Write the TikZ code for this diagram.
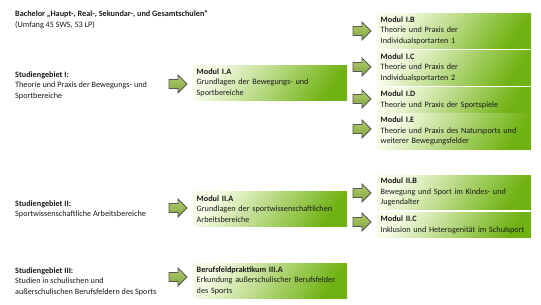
\documentclass[tikz,border=0pt]{standalone}
\usepackage{fontspec}
\setmainfont{Carlito}
\begin{document}
\begin{tikzpicture}[x=1pt,y=-1pt,
  every node/.style={font=\fontsize{8.2}{10.5}\selectfont, text=black!90},
  lbl/.style={anchor=north west, inner sep=0pt, align=left},
  mod/.style={anchor=north west, minimum width=154pt, text width=147pt, inner xsep=3.5pt, inner ysep=2pt, align=left,
    top color=boxlight, middle color=boxmid, bottom color=boxdark, shading angle=55},
  arrowstyle/.style={draw=arrline, line width=0.8pt, line join=miter, top color=arrtop, bottom color=arrbot},
  blockarrow/.pic={\path[arrowstyle] (-9,-4.5) -- (0,-4.5) -- (0,-9) -- (9,0) -- (0,9) -- (0,4.5) -- (-9,4.5) -- cycle;}
]
\definecolor{boxlight}{RGB}{246,252,230}
\definecolor{boxmid}{RGB}{172,220,82}
\definecolor{boxdark}{RGB}{112,178,18}
\definecolor{arrtop}{RGB}{178,206,110}
\definecolor{arrbot}{RGB}{128,165,60}
\definecolor{arrline}{RGB}{85,85,85}
\useasboundingbox (0,0) rectangle (541,305);

\node[lbl] (title) at (15,10.5) {\textbf{Bachelor „Haupt-, Real-, Sekundar-, und Gesamtschulen“}\\(Umfang 45 SWS, 53 LP)};

\node[lbl] (s1) at (15,71.5) {\textbf{Studiengebiet I:}\\Theorie und Praxis der Bewegungs- und\\Sportbereiche};
\node[lbl] (s2) at (15,200.5) {\textbf{Studiengebiet II:}\\Sportwissenschaftliche Arbeitsbereiche};
\node[lbl] (s3) at (15,267.5) {\textbf{Studiengebiet III:}\\Studien in schulischen und\\außerschulischen Berufsfeldern des Sports};

\node[mod, minimum height=35pt] (m1a) at (193,65) {\textbf{Modul I.A}\\Grundlagen der Bewegungs- und\\Sportbereiche};
\node[mod, minimum height=35pt] (m1b) at (377,13) {\textbf{Modul I.B}\\Theorie und Praxis der\\Individualsportarten 1};
\node[mod, minimum height=35pt] (m1c) at (377,50) {\textbf{Modul I.C}\\Theorie und Praxis der\\Individualsportarten 2};
\node[mod, minimum height=25pt] (m1d) at (377,87) {\textbf{Modul I.D}\\Theorie und Praxis der Sportspiele};
\node[mod, minimum height=36pt] (m1e) at (377,113) {\textbf{Modul I.E}\\Theorie und Praxis des Natursports und\\weiterer Bewegungsfelder};

\node[mod, minimum height=35pt] (m2a) at (193,191) {\textbf{Modul II.A}\\Grundlagen der sportwissenschaftlichen\\Arbeitsbereiche};
\node[mod, minimum height=34pt] (m2b) at (377,175) {\textbf{Modul II.B}\\Bewegung und Sport im Kindes- und\\Jugendalter};
\node[mod, minimum height=25pt] (m2c) at (377,212) {\textbf{Modul II.C}\\Inklusion und Heterogenität im Schulsport};

\node[mod, minimum height=35pt] (m3a) at (193,263) {\textbf{Berufsfeldpraktikum III.A}\\Erkundung außerschulischer Berufsfelder\\des Sports};

\pic (a1a) at (178,84) {blockarrow};
\pic (a1b) at (362,31) {blockarrow};
\pic (a1c) at (362,67) {blockarrow};
\pic (a1d) at (362,99) {blockarrow};
\pic (a1e) at (362,129) {blockarrow};
\pic (a2a) at (178,208) {blockarrow};
\pic (a2b) at (362,193) {blockarrow};
\pic (a2c) at (362,222) {blockarrow};
\pic (a3a) at (178,277) {blockarrow};
\end{tikzpicture}
\end{document}
